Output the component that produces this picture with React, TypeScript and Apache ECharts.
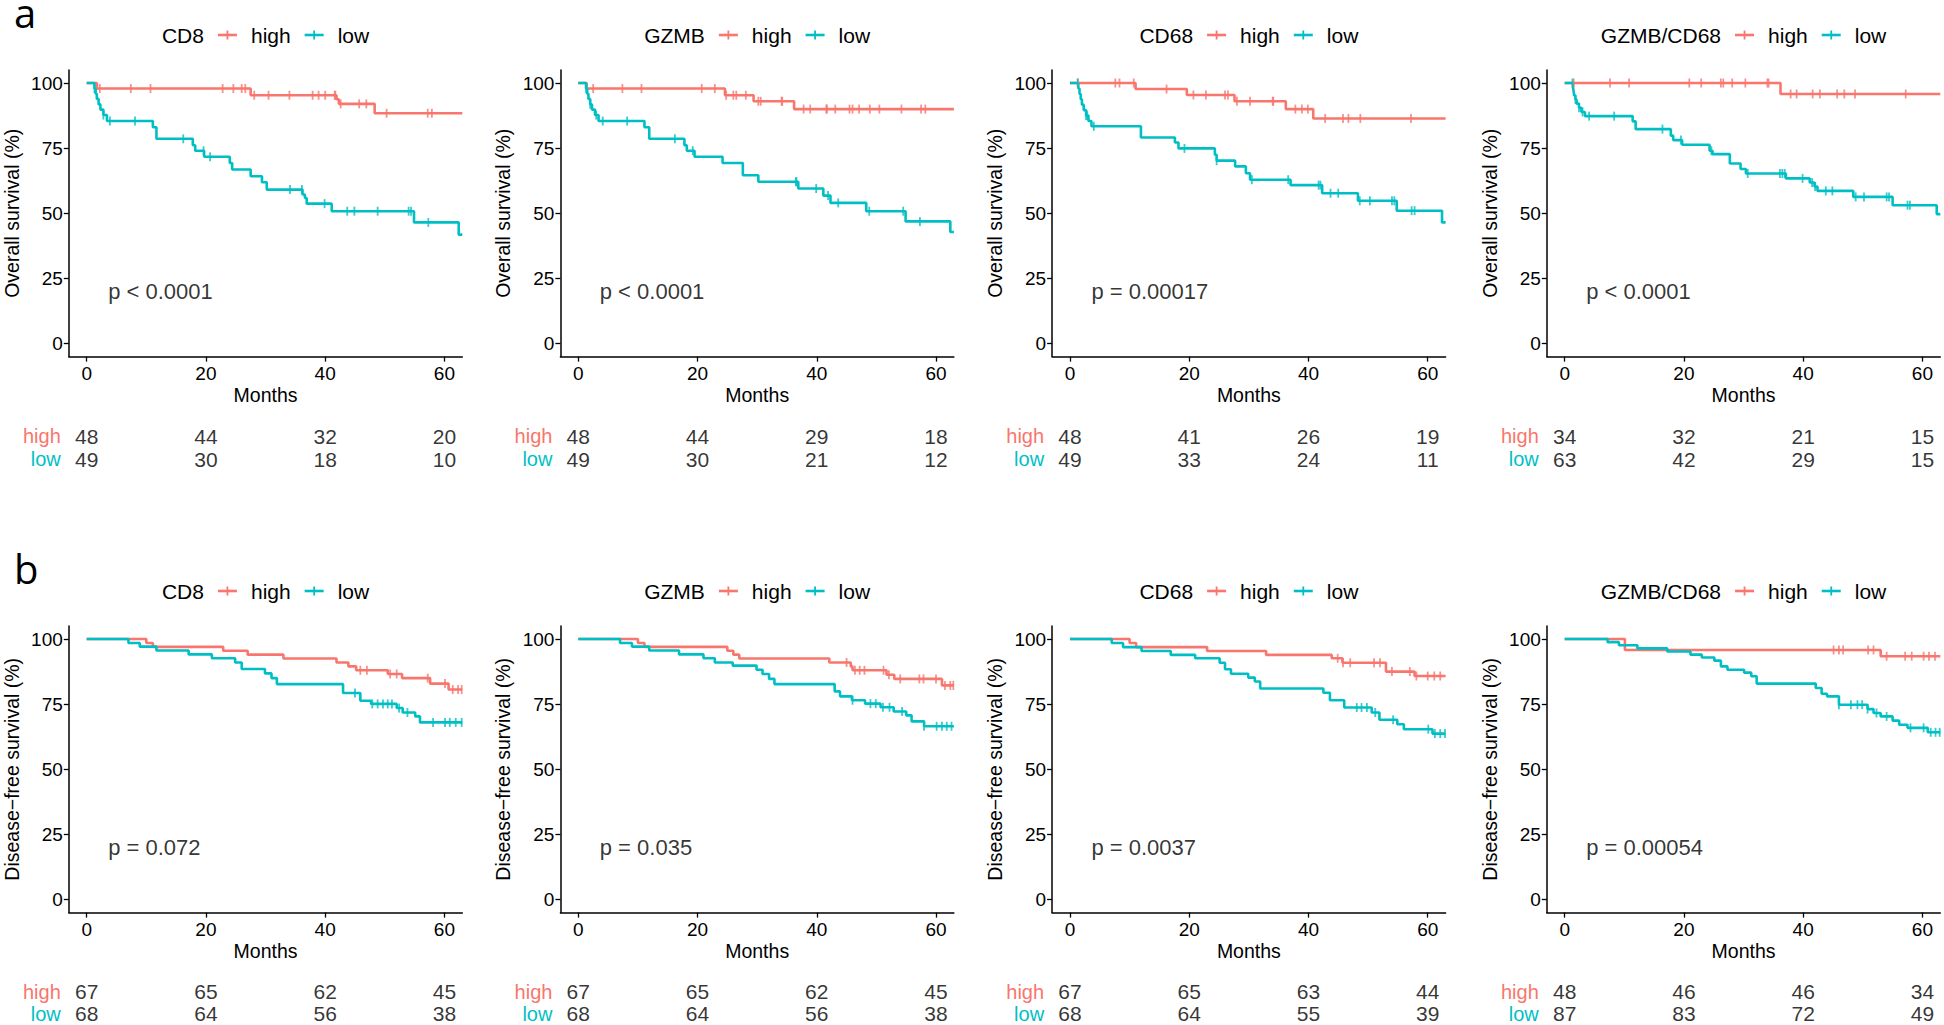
import React, { useEffect, useRef } from "react";
import * as echarts from "echarts";

const RED = "#F8766D";
const TEAL = "#00BFC4";
const FONT = '"Liberation Sans", Arial, Helvetica, sans-serif';

// ---------- labels ----------
const markers = ["CD8", "GZMB", "CD68", "GZMB/CD68"];
const osPValues = ["p < 0.0001", "p < 0.0001", "p = 0.00017", "p < 0.0001"];
const dfsPValues = ["p = 0.072", "p = 0.035", "p = 0.0037", "p = 0.00054"];
const xTicks = [0, 20, 40, 60];
const yTicks = [0, 25, 50, 75, 100];
const groups = ["high", "low"];

// ---------- numbers at risk ----------
const osRiskHigh = [[48, 44, 32, 20], [48, 44, 29, 18], [48, 41, 26, 19], [34, 32, 21, 15]];
const osRiskLow = [[49, 30, 18, 10], [49, 30, 21, 12], [49, 33, 24, 11], [63, 42, 29, 15]];
const dfsRiskHigh = [[67, 65, 62, 45], [67, 65, 62, 45], [67, 65, 63, 44], [48, 46, 46, 34]];
const dfsRiskLow = [[68, 64, 56, 38], [68, 64, 56, 38], [68, 64, 55, 39], [87, 83, 72, 49]];

// ---------- KM steps [month, survival %] and censor times ----------
const osCD8High = [[0, 100], [1.7, 97.9], [27.5, 95.3], [41.9, 93.8], [42.3, 92.0], [48.3, 88.4], [63, 88.4]];
const osCD8HighCens = [2.2, 7.4, 10.7, 22.8, 24.6, 26, 26.6, 28.1, 30.5, 34, 37.9, 38.9, 40, 41.6, 41.7, 42.6, 45.7, 46.9, 50.3, 57.2, 57.9];
const osCD8Low = [[0, 100], [1.3, 97.9], [1.5, 95.9], [1.7, 93.9], [2.0, 91.8], [2.3, 89.8], [2.8, 87.7], [3.4, 85.4], [11.1, 83.0], [11.7, 78.6], [17.8, 76.1], [18.2, 74.0], [19.7, 71.7], [24.0, 69.3], [24.4, 66.8], [27.5, 64.2], [29.4, 61.9], [30.2, 59.1], [36.2, 57.2], [36.6, 55.9], [36.9, 53.7], [41.1, 50.8], [54.9, 46.5], [62.4, 41.8], [63, 41.8]];
const osCD8LowCens = [1.3, 2.8, 3.9, 8.1, 16.2, 19.6, 20.7, 34.1, 36.1, 39.9, 43.7, 44.9, 48.8, 54.0, 54.4, 57.3];

const osGZMBHigh = [[0, 100], [1.4, 97.9], [24.6, 95.3], [29.4, 93.0], [36.2, 90.0], [63, 90.0]];
const osGZMBHighCens = [2.5, 7.4, 10.6, 20.7, 22.9, 24.8, 26.0, 26.5, 28.1, 30.2, 30.6, 34.1, 34.2, 37.8, 38.9, 41.6, 41.7, 43.1, 45.5, 46.0, 47.1, 48.9, 50.5, 54.2, 57.5, 58.2];
const osGZMBLow = [[0, 100], [1.3, 97.9], [1.5, 95.9], [1.7, 93.9], [2.0, 91.8], [2.3, 89.8], [2.8, 87.7], [3.4, 85.4], [11.1, 83.0], [11.9, 78.6], [17.8, 76.1], [18.2, 74.0], [19.5, 71.7], [24.2, 69.3], [27.6, 64.6], [30.2, 62.1], [36.9, 59.5], [41.1, 56.8], [42.3, 54.0], [48.3, 50.8], [54.9, 46.9], [62.4, 42.8], [63, 42.8]];
const osGZMBLowCens = [1.3, 2.0, 3.0, 4.1, 8.2, 16.2, 19.2, 36.5, 36.6, 39.9, 41.9, 43.6, 48.8, 54.5, 57.3];

const osCD68High = [[0, 100], [11.0, 97.7], [19.6, 95.4], [27.6, 93.0], [36.2, 90.0], [40.8, 86.4], [63, 86.4]];
const osCD68HighCens = [1.3, 7.6, 8.3, 10.7, 16.2, 20.7, 22.8, 26.0, 26.5, 28.0, 30.2, 34.0, 34.1, 37.8, 38.9, 39.9, 42.8, 45.8, 46.7, 48.7, 57.2];
const osCD68Low = [[0, 100], [1.4, 97.9], [1.6, 95.8], [1.8, 93.8], [2.0, 91.7], [2.3, 89.6], [2.7, 87.5], [3.1, 85.4], [3.6, 83.4], [11.9, 79.1], [17.6, 77.2], [18.2, 74.9], [24.3, 72.5], [24.6, 70.2], [27.7, 68.0], [29.5, 65.4], [30.2, 62.9], [37.0, 60.8], [42.3, 57.7], [48.3, 54.8], [54.8, 51.0], [62.4, 46.5], [63, 46.5]];
const osCD68LowCens = [1.3, 2.7, 2.9, 4.0, 19.2, 24.6, 30.5, 36.6, 41.7, 42.0, 43.7, 45.0, 48.6, 50.3, 54.0, 54.4, 57.3, 57.8];

const osRatioHigh = [[0, 100], [36.2, 95.8], [63, 95.8]];
const osRatioHighCens = [1.5, 7.6, 10.8, 20.9, 22.9, 26.2, 26.6, 28.1, 30.3, 34.0, 34.2, 37.9, 38.9, 41.6, 42.8, 45.7, 46.9, 48.7, 57.2];
const osRatioLow = [[0, 100], [1.4, 98.4], [1.5, 96.8], [1.6, 95.2], [1.8, 93.7], [2.0, 92.1], [2.4, 90.5], [2.8, 88.9], [3.4, 87.3], [11.4, 85.3], [11.9, 82.3], [17.8, 79.8], [18.2, 78.1], [19.7, 76.3], [24.3, 74.0], [24.8, 72.7], [27.7, 69.1], [29.5, 67.0], [30.4, 65.3], [37.1, 63.4], [41.1, 61.8], [41.9, 60.3], [42.4, 58.6], [48.4, 56.3], [55.0, 53.1], [62.4, 49.7], [63, 49.7]];
const osRatioLowCens = [1.3, 1.8, 2.4, 3.0, 4.1, 8.3, 16.4, 19.5, 24.6, 30.7, 36.1, 36.5, 36.9, 39.9, 41.5, 42.0, 43.8, 44.9, 48.8, 50.2, 54.0, 54.4, 57.5, 57.9];

const dfsCD8High = [[0, 100], [10.0, 98.5], [11.1, 97.0], [22.9, 95.5], [27.0, 94.0], [33.0, 92.5], [41.9, 91.0], [43.9, 89.5], [45.2, 88.0], [50.5, 86.6], [52.9, 85.0], [57.6, 82.9], [60.7, 80.6], [63, 80.6]];
const dfsCD8HighCens = [45.9, 47.0, 50.9, 52.0, 57.2, 60.1, 61.4, 62.3, 62.9];
const dfsCD8Low = [[0, 100], [7.0, 98.5], [8.9, 97.1], [11.7, 95.6], [17.1, 94.1], [21.0, 92.6], [24.9, 91.0], [26.0, 88.5], [29.9, 86.8], [31.0, 85.0], [31.9, 82.7], [43.0, 79.3], [45.9, 76.3], [47.7, 75.1], [52.0, 73.5], [53.0, 71.8], [55.1, 70.3], [55.9, 68.0], [63, 68.0]];
const dfsCD8LowCens = [45.0, 47.9, 48.8, 49.7, 50.5, 51.2, 52.4, 53.8, 58.1, 60.1, 60.9, 61.9, 62.9];

const dfsGZMBHigh = [[0, 100], [10.0, 98.5], [11.1, 97.0], [25.0, 95.5], [26.0, 94.0], [27.0, 92.5], [42.1, 91.0], [45.7, 89.5], [46.0, 88.0], [51.7, 86.3], [53.0, 84.7], [61.0, 82.2], [63, 82.2]];
const dfsGZMBHighCens = [45.0, 46.4, 47.2, 48.0, 51.2, 52.1, 54.0, 57.2, 57.9, 60.0, 61.5, 62.4, 62.9];
const dfsGZMBLow = [[0, 100], [7.0, 98.5], [9.0, 97.1], [11.9, 95.6], [16.9, 94.1], [21.0, 92.6], [22.9, 91.0], [25.9, 89.8], [29.9, 88.2], [30.9, 86.6], [32.0, 84.7], [32.9, 82.7], [43.0, 79.9], [43.9, 78.0], [45.9, 76.5], [48.1, 75.2], [50.7, 73.8], [52.9, 72.2], [55.0, 70.7], [55.9, 68.4], [58.0, 66.5], [63, 66.5]];
const dfsGZMBLowCens = [46.0, 49.0, 49.9, 51.1, 52.2, 54.3, 58.0, 60.1, 61.0, 61.8, 62.6];

const dfsCD68High = [[0, 100], [10.0, 98.5], [11.1, 96.9], [23.0, 95.4], [32.9, 93.9], [43.9, 92.6], [45.7, 90.9], [53.0, 87.5], [57.8, 85.8], [63, 85.8]];
const dfsCD68HighCens = [44.9, 45.8, 47.0, 51.0, 52.0, 54.0, 57.0, 58.1, 60.0, 61.1, 62.1];
const dfsCD68Low = [[0, 100], [7.0, 98.5], [8.9, 96.9], [12.0, 95.4], [16.9, 93.9], [21.0, 92.6], [25.1, 90.9], [26.0, 88.4], [27.0, 86.7], [29.9, 85.2], [31.0, 83.7], [31.9, 81.0], [42.5, 79.4], [43.6, 76.5], [46.0, 73.7], [50.6, 71.8], [51.9, 69.0], [54.9, 67.3], [56.0, 65.4], [60.8, 63.7], [63, 63.7]];
const dfsCD68LowCens = [48.1, 48.9, 49.8, 51.2, 54.2, 60.1, 61.2, 62.1, 62.9];

const dfsRatioHigh = [[0, 100], [10.1, 95.8], [53.0, 93.4], [63, 93.4]];
const dfsRatioHighCens = [45.1, 46.0, 46.7, 50.9, 51.8, 54.0, 57.1, 58.2, 60.2, 61.1, 62.1];
const dfsRatioLow = [[0, 100], [7.2, 98.8], [9.1, 97.6], [12.2, 96.4], [17.2, 95.2], [21.1, 94.0], [23.0, 92.9], [25.1, 91.7], [26.2, 89.5], [27.3, 88.2], [30.1, 87.1], [31.3, 85.7], [32.2, 82.9], [42.1, 81.2], [43.1, 79.0], [44.0, 78.0], [46.0, 74.8], [50.8, 73.1], [51.8, 71.6], [53.0, 70.3], [55.0, 68.7], [56.1, 67.1], [57.5, 65.9], [60.9, 64.2], [63, 64.2]];
const dfsRatioLowCens = [46.0, 48.0, 49.1, 49.9, 50.8, 52.3, 54.0, 58.0, 60.2, 61.4, 62.2, 62.9];

// ---------- layout (pixels) ----------
const GRID_LEFT = [68.8, 560.4, 1052.1, 1546.8];
const GRID_W = 393.5;
const ROW_TOP = [70, 626];
const GRID_H = 286.6;
const TITLE_Y = [35, 591];
const RISK_TOP = [424.5, 980.5];
const RISK_H = [46, 44];
const LETTER_TOP = [0, 556];

const panels = [
  { title: markers[0], p: osPValues[0], hi: osCD8High, hiC: osCD8HighCens, lo: osCD8Low, loC: osCD8LowCens, rh: osRiskHigh[0], rl: osRiskLow[0] },
  { title: markers[1], p: osPValues[1], hi: osGZMBHigh, hiC: osGZMBHighCens, lo: osGZMBLow, loC: osGZMBLowCens, rh: osRiskHigh[1], rl: osRiskLow[1] },
  { title: markers[2], p: osPValues[2], hi: osCD68High, hiC: osCD68HighCens, lo: osCD68Low, loC: osCD68LowCens, rh: osRiskHigh[2], rl: osRiskLow[2] },
  { title: markers[3], p: osPValues[3], hi: osRatioHigh, hiC: osRatioHighCens, lo: osRatioLow, loC: osRatioLowCens, rh: osRiskHigh[3], rl: osRiskLow[3] },
  { title: markers[0], p: dfsPValues[0], hi: dfsCD8High, hiC: dfsCD8HighCens, lo: dfsCD8Low, loC: dfsCD8LowCens, rh: dfsRiskHigh[0], rl: dfsRiskLow[0] },
  { title: markers[1], p: dfsPValues[1], hi: dfsGZMBHigh, hiC: dfsGZMBHighCens, lo: dfsGZMBLow, loC: dfsGZMBLowCens, rh: dfsRiskHigh[1], rl: dfsRiskLow[1] },
  { title: markers[2], p: dfsPValues[2], hi: dfsCD68High, hiC: dfsCD68HighCens, lo: dfsCD68Low, loC: dfsCD68LowCens, rh: dfsRiskHigh[2], rl: dfsRiskLow[2] },
  { title: markers[3], p: dfsPValues[3], hi: dfsRatioHigh, hiC: dfsRatioHighCens, lo: dfsRatioLow, loC: dfsRatioLowCens, rh: dfsRiskHigh[3], rl: dfsRiskLow[3] },
];

function survAt(curve: number[][], t: number): number {
  let v = curve[0][1];
  for (const [x, y] of curve) {
    if (x <= t) v = y;
    else break;
  }
  return v;
}

function measure(s: string, size: number): number {
  const ctx = document.createElement("canvas").getContext("2d");
  if (!ctx) return s.length * size * 0.55;
  ctx.font = `${size}px "Liberation Sans", Arial, sans-serif`;
  return ctx.measureText(s).width;
}

function buildOption() {
  const grid: any[] = [];
  const xAxis: any[] = [];
  const yAxis: any[] = [];
  const riskGrid: any[] = [];
  const riskX: any[] = [];
  const riskY: any[] = [];
  const series: any[] = [];
  const graphic: any[] = [];
  const axisColor = "#000";
  const N = panels.length;

  panels.forEach((pn, i) => {
    const row = Math.floor(i / 4);
    const col = i % 4;
    const left = GRID_LEFT[col];
    grid.push({ left, top: ROW_TOP[row], width: GRID_W, height: GRID_H, outerBoundsMode: "none", containLabel: false });
    xAxis.push({
      gridIndex: i, type: "value", min: -3, max: 63,
      name: "Months", nameLocation: "middle", nameGap: 28,
      nameTextStyle: { fontSize: 19.5, color: "#000", fontFamily: FONT },
      axisLine: { show: true, onZero: false, lineStyle: { color: axisColor, width: 1.5 } },
      axisTick: { show: true, length: 5, customValues: xTicks, lineStyle: { color: axisColor, width: 1.3 } },
      axisLabel: { customValues: xTicks, fontSize: 19, color: "#000", fontFamily: FONT, margin: 7 },
      splitLine: { show: false },
    });
    yAxis.push({
      gridIndex: i, type: "value", min: -5, max: 105,
      name: row === 0 ? "Overall survival (%)" : "Disease\u2212free survival (%)",
      nameLocation: "middle", nameGap: 47, nameRotate: 90,
      nameTextStyle: { fontSize: 19.5, color: "#000", fontFamily: FONT },
      axisLine: { show: true, onZero: false, lineStyle: { color: axisColor, width: 1.5 } },
      axisTick: { show: true, length: 5, customValues: yTicks, lineStyle: { color: axisColor, width: 1.3 } },
      axisLabel: { customValues: yTicks, fontSize: 19, color: "#000", fontFamily: FONT, margin: 6 },
      splitLine: { show: false },
    });

    const curves = [
      { name: groups[0], color: RED, data: pn.hi, cens: pn.hiC },
      { name: groups[1], color: TEAL, data: pn.lo, cens: pn.loC },
    ];
    curves.forEach((c, k) => {
      series.push({
        type: "line", name: c.name, xAxisIndex: i, yAxisIndex: i, step: "end",
        data: c.data, symbol: "none", silent: true, z: 2 + k,
        lineStyle: { color: c.color, width: 2.6 }, itemStyle: { color: c.color },
      });
    });
    curves.forEach((c, k) => {
      series.push({
        type: "scatter", name: c.name, xAxisIndex: i, yAxisIndex: i, silent: true, z: 4 + k,
        symbol: "rect", symbolSize: [1.8, 9],
        data: c.cens.map((t) => [t, survAt(c.data, t)]),
        itemStyle: { color: c.color },
      });
    });
    // p-value annotation
    series.push({
      type: "scatter", xAxisIndex: i, yAxisIndex: i, silent: true, symbolSize: 0,
      data: [[3.6, 20]],
      label: { show: true, position: [0, 0], align: "left", verticalAlign: "middle", formatter: pn.p, fontSize: 22, color: "#000", fontFamily: FONT },
    });

    // risk table grid
    const ri = N + i;
    riskGrid.push({ left, top: RISK_TOP[row], width: GRID_W, height: RISK_H[row], outerBoundsMode: "none", containLabel: false });
    riskX.push({ gridIndex: ri, type: "value", min: -3, max: 63, show: false });
    riskY.push({
      gridIndex: ri, type: "category", data: groups, inverse: true,
      axisLine: { show: false }, axisTick: { show: false }, splitLine: { show: false },
      axisLabel: { interval: 0, hideOverlap: false, fontSize: 20, fontFamily: FONT, margin: 8, color: (v: string) => (v === "high" ? RED : TEAL) },
    });
    const riskData: any[] = [];
    xTicks.forEach((t, j) => {
      riskData.push([t, groups[0], pn.rh[j]]);
      riskData.push([t, groups[1], pn.rl[j]]);
    });
    series.push({
      type: "scatter", xAxisIndex: ri, yAxisIndex: ri, silent: true, symbolSize: 0,
      data: riskData,
      label: { show: true, position: [0, 0], align: "center", verticalAlign: "middle", formatter: (p: any) => String(p.value[2]), fontSize: 21, color: "#000", fontFamily: FONT },
    });

    // title + legend
    const fs = 21;
    const wT = measure(pn.title, fs);
    const wH = measure("high", fs);
    const wL = measure("low", fs);
    const gap = 14;
    const iconW = 19;
    const total = wT + gap + iconW + gap + wH + gap + iconW + gap + wL;
    const cx = left + GRID_W / 2;
    let x = cx - total / 2;
    const y = TITLE_Y[row];
    const txt = (s: string, xx: number) => ({
      type: "text", x: xx, y, silent: true,
      style: { text: s, fontSize: fs, fontFamily: FONT, fill: "#000", textAlign: "left", textVerticalAlign: "middle", align: "left", verticalAlign: "middle" },
    });
    const icon = (xx: number, color: string) => [
      { type: "line", silent: true, shape: { x1: xx, y1: y, x2: xx + iconW, y2: y }, style: { stroke: color, lineWidth: 2.6 } },
      { type: "line", silent: true, shape: { x1: xx + iconW / 2, y1: y - 4.5, x2: xx + iconW / 2, y2: y + 4.5 }, style: { stroke: color, lineWidth: 1.8 } },
    ];
    graphic.push(txt(pn.title, x));
    x += wT + gap;
    graphic.push(...icon(x, RED));
    x += iconW + gap;
    graphic.push(txt("high", x));
    x += wH + gap;
    graphic.push(...icon(x, TEAL));
    x += iconW + gap;
    graphic.push(txt("low", x));
  });

  ["a", "b"].forEach((s, r) => {
    graphic.push({
      type: "text", x: 14, y: LETTER_TOP[r], silent: true,
      style: { text: s, fontSize: 40, lineHeight: 24, fontFamily: '"Open Sans", "Noto Sans", sans-serif', fill: "#000", textAlign: "left", textVerticalAlign: "top", align: "left", verticalAlign: "top" },
    });
  });

  return {
    animation: false,
    backgroundColor: "#fff",
    textStyle: { fontFamily: FONT },
    grid: grid.concat(riskGrid),
    xAxis: xAxis.concat(riskX),
    yAxis: yAxis.concat(riskY),
    series,
    graphic,
  };
}

export default function App() {
  const ref = useRef<HTMLDivElement>(null);
  useEffect(() => {
    if (!ref.current) return;
    const chart = echarts.init(ref.current, null, { renderer: "svg" });
    chart.setOption(buildOption() as any);
    return () => chart.dispose();
  }, []);
  return <div ref={ref} style={{ position: "fixed", left: 0, top: 0, width: 1944, height: 1025, background: "#fff" }} />;
}
